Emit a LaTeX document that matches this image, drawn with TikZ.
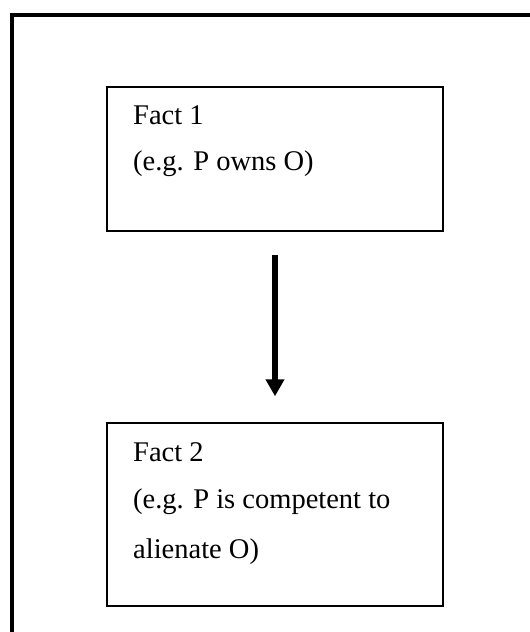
\documentclass[tikz,border=0pt]{standalone}
\usepackage{fontspec}
\setmainfont{Liberation Serif}
\usetikzlibrary{arrows.meta}
\begin{document}
\begin{tikzpicture}[x=1pt, y=-1pt,
  factbox/.style={draw=black, line width=1.5pt, rectangle, minimum width=336pt, inner sep=0pt},
  factline/.style={anchor=base west, inner sep=0pt, font=\fontsize{28.5}{34}\selectfont},
  implies/.style={line width=6pt, -{Triangle[width=18pt,length=17pt]}}
]
\useasboundingbox (0,0) rectangle (530,632);
\clip (0,0) rectangle (530,632);
% outer frame (only its top and left sides fall inside the page)
\draw[line width=4pt] (12,700) -- (12,15) -- (600,15);

% the two fact boxes
\node[factbox, minimum height=144pt] (f1) at (275,159) {};
\node[factbox, minimum height=183pt] (f2) at (275,514.5) {};

% their texts
\node[factline] (f1a) at (133,124) {Fact 1};
\node[factline] (f1b) at (133,170) {(e.g. P owns O)};
\node[factline] (f2a) at (133,461) {Fact 2};
\node[factline] (f2b) at (133,508) {(e.g. P is competent to};
\node[factline] (f2c) at (133,558) {alienate O)};

% the implication arrow
\draw[implies, shorten <=23pt, shorten >=26pt] (f1.south) -- (f2.north);
\end{tikzpicture}
\end{document}
